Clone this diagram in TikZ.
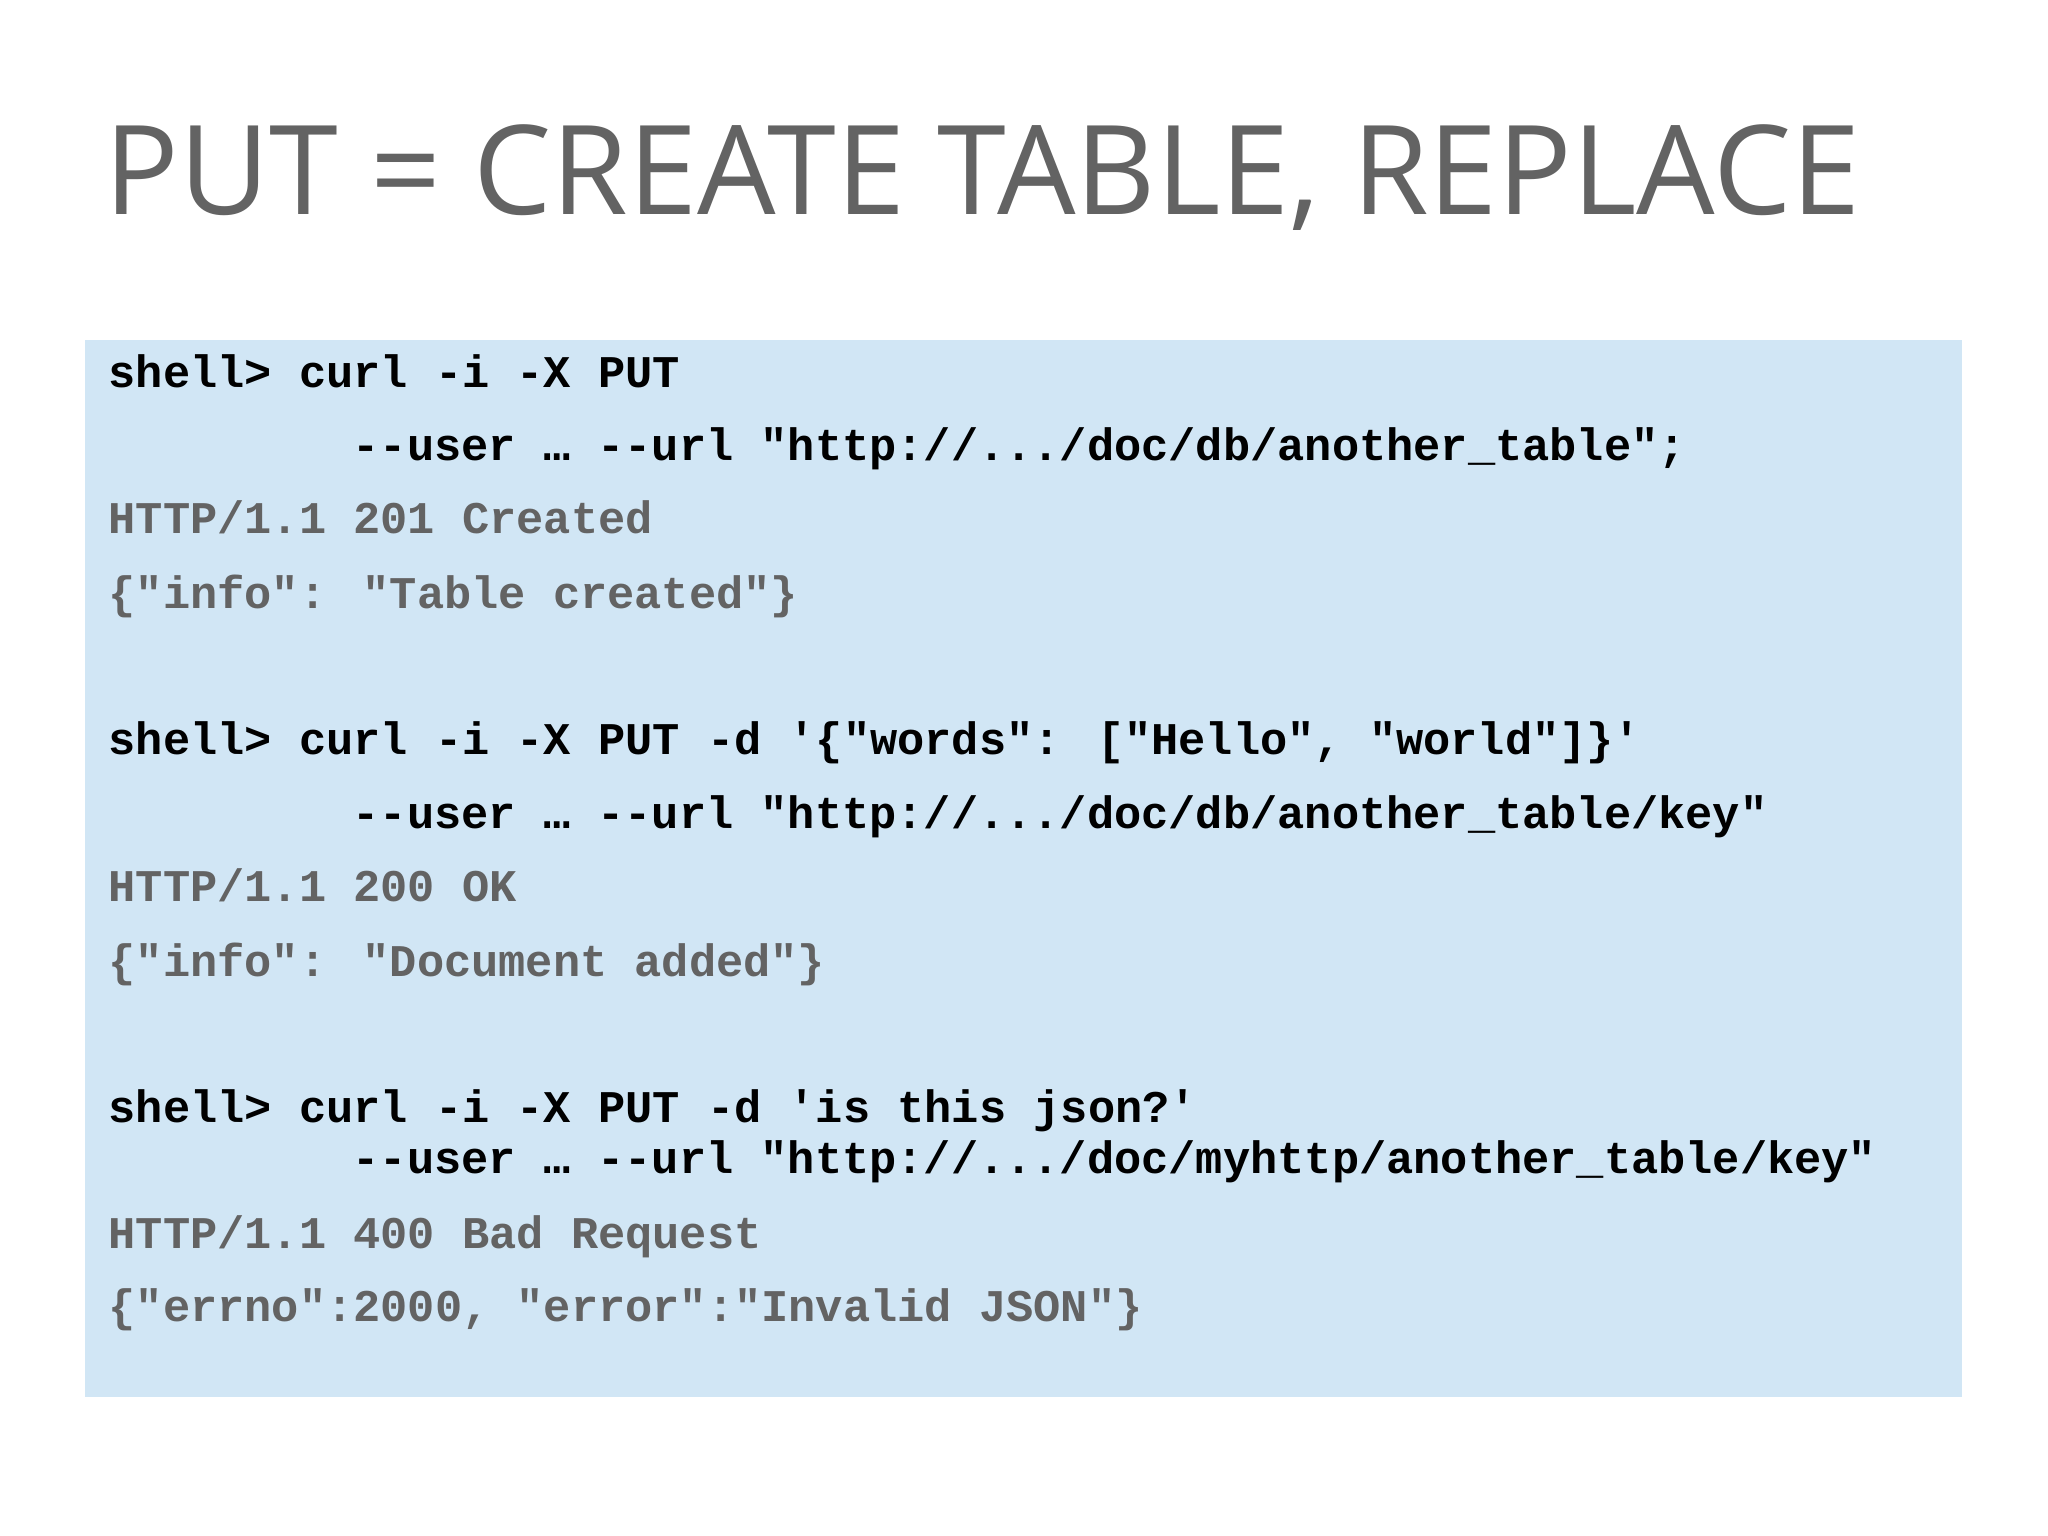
\documentclass[tikz,border=0pt]{standalone}
\usepackage{fontspec}
\newfontfamily\titlefont{Open Sans}
\newfontfamily\codefont{Liberation Mono}
\definecolor{boxblue}{HTML}{D1E6F5}
\definecolor{gtext}{HTML}{636363}
\begin{document}
\begin{tikzpicture}[x=1cm,y=1cm,
  cmd/.style={anchor=base west,inner sep=0pt,font=\codefont\bfseries\fontsize{12.9pt}{14pt}\selectfont,text=black},
  resp/.style={cmd,text=gtext}]
\useasboundingbox (0,0) rectangle (20.48,15.36);
\fill[white] (0,0) rectangle (20.48,15.36);
\node[anchor=base west,inner sep=0pt,text=gtext,font=\titlefont\fontsize{35.3pt}{40pt}\selectfont] (title) at (1.04,13.21) {PUT = CREATE TABLE, REPLACE};
\fill[boxblue] (0.85,1.39) rectangle (19.62,11.96);
\node[cmd] (l1) at (1.08,11.48) {shell> curl -i -X PUT};
\node[cmd] (l2) at (3.52,10.75) {--user … --url "http://.../doc/db/another\_table";};
\node[resp] (l3) at (1.08,10.02) {HTTP/1.1 201 Created};
\node[resp] (l4) at (1.08,9.27) {\{"info": "Table created"\}};
\node[cmd] (l5) at (1.08,7.81) {shell> curl -i -X PUT -d '\{"words": ["Hello", "world"]\}'};
\node[cmd] (l6) at (3.52,7.07) {--user … --url "http://.../doc/db/another\_table/key"};
\node[resp] (l7) at (1.08,6.34) {HTTP/1.1 200 OK};
\node[resp] (l8) at (1.08,5.59) {\{"info": "Document added"\}};
\node[cmd] (l9) at (1.08,4.13) {shell> curl -i -X PUT -d 'is this json?'};
\node[cmd] (l10) at (3.52,3.62) {--user … --url "http://.../doc/myhttp/another\_table/key"};
\node[resp] (l11) at (1.08,2.87) {HTTP/1.1 400 Bad Request};
\node[resp] (l12) at (1.08,2.14) {\{"errno":2000, "error":"Invalid JSON"\}};
\end{tikzpicture}
\end{document}
